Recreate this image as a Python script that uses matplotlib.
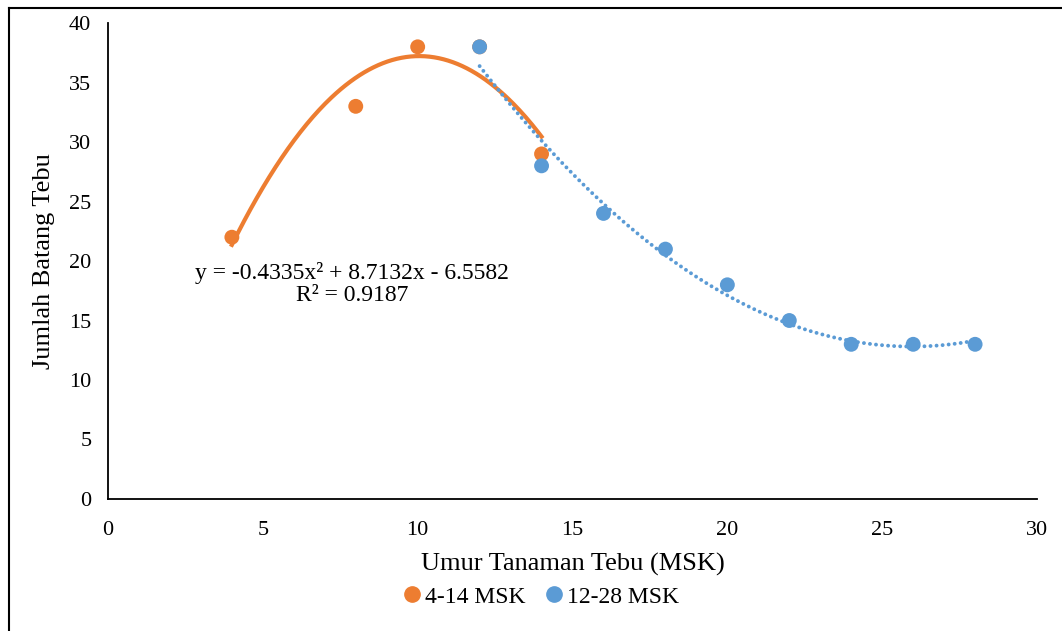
import numpy as np
import matplotlib.pyplot as plt
from matplotlib.lines import Line2D

plt.rcParams['font.family'] = ['Liberation Serif', 'DejaVu Serif']

# data (orange point at 12 sits under the blue one)
umur_a = [4, 8, 10, 12, 14]
batang_a = [22, 33, 38, 38, 29]
umur_b = [12, 14, 16, 18, 20, 22, 24, 26, 28]
batang_b = [38, 28, 24, 21, 18, 15, 13, 13, 13]

orange = '#ED7D31'
blue = '#5B9BD5'

fig = plt.figure(figsize=(10.62, 6.31), dpi=100)
ax = fig.add_axes([0.1017, 0.2092, 0.8748, 0.7543])

# polynomial trendlines (order 2, like Excel)
coef_a = np.polyfit(umur_a, batang_a, 2)
xa = np.linspace(min(umur_a), max(umur_a), 200)
ax.plot(xa, np.polyval(coef_a, xa), color=orange, lw=3, zorder=2)

coef_b = np.polyfit(umur_b, batang_b, 2)
xb = np.linspace(min(umur_b), max(umur_b), 300)
ax.plot(xb, np.polyval(coef_b, xb), color=blue, lw=2.8, ls=(0, (0.01, 1.55)),
        dash_capstyle='round', zorder=4)

ax.scatter(umur_a, batang_a, s=115, color=orange, zorder=3, edgecolors='none')
ax.scatter(umur_b, batang_b, s=115, color=blue, zorder=3, edgecolors='none')

ax.text(0.2627, 0.452, 'y = -0.4335x² + 8.7132x - 6.5582\nR² = 0.9187',
        transform=ax.transAxes, ha='center', va='center', fontsize=17,
        linespacing=1.05)

ax.set_xlim(0, 30)
ax.set_ylim(0, 40)
ax.set_xticks(range(0, 31, 5))
ax.set_yticks(range(0, 41, 5))
ax.tick_params(length=0, labelsize=16)
ax.tick_params(axis='y', pad=12)
ax.tick_params(axis='x', pad=16)
ax.spines['top'].set_visible(False)
ax.spines['right'].set_visible(False)
ax.spines['left'].set_linewidth(1.3)
ax.spines['bottom'].set_linewidth(1.3)

ax.set_xlabel('Umur Tanaman Tebu (MSK)', fontsize=19)
ax.set_ylabel('Jumlah Batang Tebu', fontsize=19)
ax.xaxis.set_label_coords(0.5, -0.113)
ax.yaxis.set_label_coords(-0.057, 0.5)

handles = [Line2D([], [], marker='o', ls='', color=orange, markersize=11, label='4-14 MSK'),
           Line2D([], [], marker='o', ls='', color=blue, markersize=11, label='12-28 MSK')]
fig.legend(handles=handles, loc='center', bbox_to_anchor=(0.508, 0.054), ncol=2,
           frameon=False, fontsize=17, handletextpad=0.05, columnspacing=0.7,
           handlelength=1.0)

# chart frame (left and top edges visible)
fig.add_artist(Line2D([0.0085, 0.0085], [0, 0.987], color='black', lw=1.5, transform=fig.transFigure))
fig.add_artist(Line2D([0.0085, 1.0], [0.987, 0.987], color='black', lw=1.5, transform=fig.transFigure))

fig.savefig('out.png', dpi=100)
